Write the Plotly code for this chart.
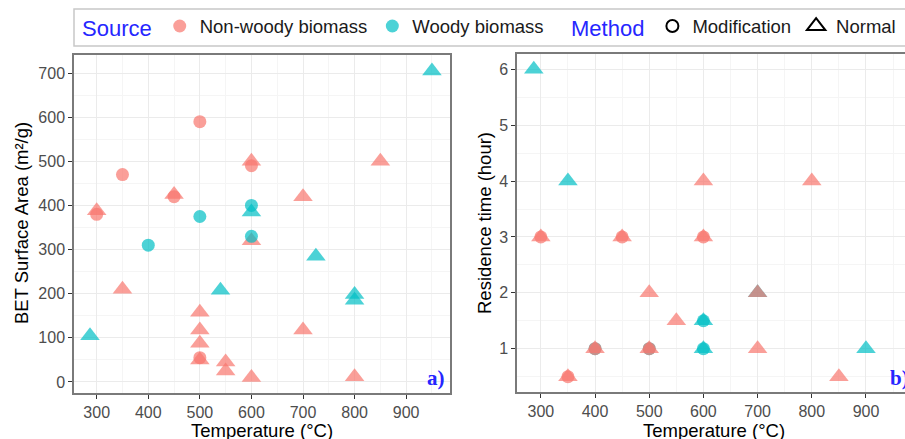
import plotly.graph_objects as go

# ---------------- data ----------------
# Panel a) BET surface area vs temperature
a_nonwoody_mod_temp = [500, 350, 600, 450, 300, 500]
a_nonwoody_mod_bet = [590, 470, 490, 420, 380, 55]
a_nonwoody_norm_temp = [600, 850, 450, 300, 700, 600, 350, 500, 500, 500, 500, 550, 550, 600, 700, 800]
a_nonwoody_norm_bet = [500, 500, 425, 388, 420, 320, 210, 158, 118, 88, 50, 45, 25, 10, 118, 12]
a_woody_mod_temp = [500, 600, 600, 400]
a_woody_mod_bet = [375, 400, 330, 310]
a_woody_norm_temp = [950, 600, 725, 540, 800, 800, 287]
a_woody_norm_bet = [705, 385, 285, 208, 198, 185, 105]

# Panel b) residence time vs temperature
b_nonwoody_mod_temp = [300, 450, 600, 400, 500, 350]
b_nonwoody_mod_time = [3, 3, 3, 1, 1, 0.5]
b_nonwoody_norm_temp = [600, 800, 300, 450, 600, 500, 700, 550, 400, 500, 700, 350, 850]
b_nonwoody_norm_time = [4, 4, 3, 3, 3, 2, 2, 1.5, 1, 1, 1, 0.5, 0.5]
b_woody_mod_temp = [600, 600, 400, 500]
b_woody_mod_time = [1.5, 1, 1, 1]
b_woody_norm_temp = [287, 350, 700, 600, 600, 900]
b_woody_norm_time = [6, 4, 2, 1.5, 1, 1]

x_ticks = [300, 400, 500, 600, 700, 800, 900]
a_y_ticks = [0, 100, 200, 300, 400, 500, 600, 700]
b_y_ticks = [1, 2, 3, 4, 5, 6]

# ---------------- style ----------------
SALMON = "#F8766D"
TEAL = "#00BFC4"
ALPHA = 0.7
W, H = 905, 439
FONT = "Liberation Sans, Arial, sans-serif"

def px(x):
    return x / W

def py(y):
    return 1 - y / H

def pts(x, y, color, symbol, size, xa, ya):
    return go.Scatter(
        x=x, y=y, mode="markers", xaxis=xa, yaxis=ya, showlegend=False,
        hoverinfo="x+y",
        marker=dict(color=color, symbol=symbol, size=size, opacity=ALPHA,
                    line=dict(width=0)),
    )

CIRC = 13
TRI = 17

fig = go.Figure()
# panel a
fig.add_trace(pts(a_nonwoody_mod_temp, a_nonwoody_mod_bet, SALMON, "circle", CIRC, "x", "y"))
fig.add_trace(pts(a_nonwoody_norm_temp, a_nonwoody_norm_bet, SALMON, "triangle-up", TRI, "x", "y"))
fig.add_trace(pts(a_woody_norm_temp, a_woody_norm_bet, TEAL, "triangle-up", TRI, "x", "y"))
fig.add_trace(pts(a_woody_mod_temp, a_woody_mod_bet, TEAL, "circle", CIRC, "x", "y"))
# panel b
fig.add_trace(pts(b_woody_norm_temp, b_woody_norm_time, TEAL, "triangle-up", TRI, "x2", "y2"))
fig.add_trace(pts(b_woody_mod_temp, b_woody_mod_time, TEAL, "circle", CIRC, "x2", "y2"))
fig.add_trace(pts(b_nonwoody_mod_temp, b_nonwoody_mod_time, SALMON, "circle", CIRC, "x2", "y2"))
fig.add_trace(pts(b_nonwoody_norm_temp, b_nonwoody_norm_time, SALMON, "triangle-up", TRI, "x2", "y2"))

# legend entries
fig.add_trace(go.Scatter(x=[None], y=[None], mode="markers", name="Non-woody biomass",
                         marker=dict(color=SALMON, size=CIRC, opacity=ALPHA), legend="legend"))
fig.add_trace(go.Scatter(x=[None], y=[None], mode="markers", name="Woody biomass",
                         marker=dict(color=TEAL, size=CIRC, opacity=ALPHA), legend="legend"))
fig.add_trace(go.Scatter(x=[None], y=[None], mode="markers", name="Modification",
                         marker=dict(color="black", symbol="circle-open", size=12, line=dict(width=2)),
                         legend="legend2"))
fig.add_trace(go.Scatter(x=[None], y=[None], mode="markers", name="Normal",
                         marker=dict(color="black", symbol="triangle-up-open", size=17, line=dict(width=2)),
                         legend="legend2"))

grid = dict(
    showgrid=True, gridcolor="#EBEBEB", gridwidth=1,
    showline=True, linecolor="#7a7a7a", linewidth=1.5,
    ticks="outside", ticklen=4, tickcolor="#333333", tickwidth=1,
    tickfont=dict(family=FONT, size=16, color="#4D4D4D"),
    zeroline=False, fixedrange=True,
)

fig.update_layout(
    width=W, height=H,
    margin=dict(l=0, r=0, t=0, b=0, autoexpand=False),
    paper_bgcolor="white", plot_bgcolor="white",
    font=dict(family=FONT),
    xaxis=dict(domain=[px(74), px(450)], range=[256, 985], tickvals=x_ticks,
               anchor="y", mirror=True,
               minor=dict(dtick=50, tick0=0, showgrid=True, gridcolor="#F5F5F5", ticks=""),
               **grid),
    yaxis=dict(domain=[py(393), py(55)], range=[-25, 741], tickvals=a_y_ticks,
               anchor="x", mirror=True,
               minor=dict(dtick=50, tick0=0, showgrid=True, gridcolor="#F5F5F5", ticks=""),
               **grid),
    xaxis2=dict(domain=[px(517), 1], range=[256, 972], tickvals=x_ticks,
                anchor="y2", mirror=True,
                minor=dict(dtick=50, tick0=0, showgrid=True, gridcolor="#F5F5F5", ticks=""),
                **grid),
    yaxis2=dict(domain=[py(392), py(54)], range=[0.225, 6.275], tickvals=b_y_ticks,
                anchor="x2", mirror=False,
                minor=dict(dtick=0.5, tick0=0, showgrid=True, gridcolor="#F5F5F5", ticks=""),
                **grid),
    legend=dict(
        orientation="h", x=px(80), xanchor="left", y=py(27), yanchor="middle",
        bgcolor="rgba(0,0,0,0)", borderwidth=0,
        font=dict(family=FONT, size=18.5, color="#1a1a1a"),
        title=dict(text="Source", side="left", font=dict(family=FONT, size=22, color="#2626FF")),
        itemclick=False, itemdoubleclick=False,
    ),
    legend2=dict(
        orientation="h", x=px(569), xanchor="left", y=py(27), yanchor="middle",
        bgcolor="rgba(0,0,0,0)", borderwidth=0,
        font=dict(family=FONT, size=18.5, color="#1a1a1a"),
        title=dict(text="Method", side="left", font=dict(family=FONT, size=22, color="#2626FF")),
        itemclick=False, itemdoubleclick=False,
    ),
    shapes=[
        dict(type="rect", xref="paper", yref="paper", x0=px(74), x1=1.05, y0=py(46), y1=py(9),
             line=dict(color="#C8C8C8", width=1.5), fillcolor="rgba(0,0,0,0)", layer="below"),
    ],
    annotations=[
        dict(text="BET Surface Area (m²/g)", x=px(21), y=py(223), xref="paper", yref="paper",
             xanchor="center", yanchor="middle",
             textangle=-90, showarrow=False, font=dict(family=FONT, size=18.5, color="black")),
        dict(text="Temperature (°C)", x=px(262), y=py(430), xref="paper", yref="paper",
             xanchor="center", yanchor="middle",
             showarrow=False, font=dict(family=FONT, size=18.5, color="black")),
        dict(text="Residence time (hour)", x=px(484), y=py(223), xref="paper", yref="paper",
             xanchor="center", yanchor="middle",
             textangle=-90, showarrow=False, font=dict(family=FONT, size=18.5, color="black")),
        dict(text="Temperature (°C)", x=px(714), y=py(430), xref="paper", yref="paper",
             xanchor="center", yanchor="middle",
             showarrow=False, font=dict(family=FONT, size=18.5, color="black")),
        dict(text="<b>a)</b>", x=px(447), y=py(378), xref="paper", yref="paper",
             xanchor="right", yanchor="middle",
             showarrow=False, font=dict(family="Liberation Serif, DejaVu Serif, serif", size=21, color="#2626FF")),
        dict(text="<b>b)</b>", x=px(888), y=py(378), xref="paper", yref="paper",
             xanchor="left", yanchor="middle",
             showarrow=False, font=dict(family="Liberation Serif, DejaVu Serif, serif", size=21, color="#2626FF")),
    ],
)

fig.write_html(
    "out.html",
    config={"displayModeBar": False},
    post_script="document.body.style.margin='0';document.body.style.overflow='hidden';",
)
